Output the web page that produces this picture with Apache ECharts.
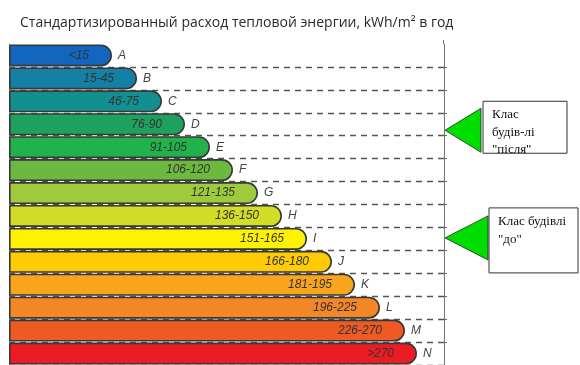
<!DOCTYPE html>
<html><head><meta charset="utf-8">
<script src="https://cdn.jsdelivr.net/npm/echarts@6/dist/echarts.min.js"></script>
<style>html,body{margin:0;padding:0;background:#fff}#c{width:580px;height:365px}</style>
</head><body><div id="c"></div>
<script>
const titleText = 'Стандартизированный расход тепловой энергии, kWh/m² в год';
const classes = ['A','B','C','D','E','F','G','H','I','J','K','L','M','N'];
const ranges = ['<15','15-45','46-75','76-90','91-105','106-120','121-135','136-150','151-165','166-180','181-195','196-225','226-270','>270'];
const barLengths = [103,128,153,176,201,224,249,273,298,323,346,371,396,408];
const barColors = ['#1266bf','#1580a6','#129090','#1fa15e','#22b24c','#6cb93f','#9dcb3c','#d3dc26','#fff200','#fecb05','#f8a51d','#f38626','#ed5a24','#ec1c24'];
const afterClass = 'D';
const beforeClass = 'I';
const afterLabel = 'Клас\nбудів-лі\n"після"';
const beforeLabel = 'Клас будівлі\n"до"';

const chart = echarts.init(document.getElementById('c'), null, {renderer:'canvas'});
chart.setOption({
  animation:false,
  title:{text:titleText,left:15,top:11,textStyle:{fontFamily:'Open Sans',fontSize:14,fontWeight:'normal',color:'#2a2a2a'}},
  grid:{left:9,right:136,top:44,height:325},
  xAxis:{type:'value',min:0,max:435,show:false},
  yAxis:[{type:'category',data:classes,inverse:true,
    axisLine:{show:true,lineStyle:{color:'#8a8a8a',width:1}},
    axisTick:{show:false},axisLabel:{show:false},
    splitLine:{show:true,interval:(i)=>i!==0,lineStyle:{color:'#555',width:1.3,type:[6,5]}}
  },{type:'category',data:classes,inverse:true,position:'right',
    axisLine:{show:true,lineStyle:{color:'#777',width:1}},
    axisTick:{show:true,inside:false,length:3,interval:(i)=>i!==0,lineStyle:{color:'#666'}},
    axisLabel:{show:false},splitLine:{show:false}
  }],
  series:[{
    type:'bar',barWidth:22,
    data:barLengths.map((v,i)=>({value:v,itemStyle:{color:barColors[i]}})),
    itemStyle:{borderColor:'#383838',borderWidth:1.6,borderRadius:[0,11,11,0]},
    label:{show:true,position:'insideRight',distance:23,formatter:(p)=>ranges[p.dataIndex],
      fontFamily:'Liberation Sans',fontStyle:'italic',fontSize:12,color:'#333'}
  },{
    type:'bar',barWidth:22,barGap:'-100%',silent:true,
    data:barLengths,
    itemStyle:{color:'rgba(0,0,0,0)'},
    label:{show:true,position:'right',distance:6,formatter:(p)=>classes[p.dataIndex],
      fontFamily:'Liberation Sans',fontStyle:'italic',fontSize:12,color:'#444'}
  }]
});

function annotation(cls, dy, baseX, halfH, box, text, tx){
  const y = chart.convertToPixel({yAxisIndex:0}, cls) + dy;
  return [
    {type:'polygon',shape:{points:[[445,y],[baseX,y-halfH],[baseX,y+halfH]]},
      style:{fill:'#00dd00',stroke:'#222',lineWidth:0.8},z:10},
    {type:'rect',shape:{x:box[0],y:y+box[1],width:box[2],height:box[3]},
      style:{fill:'#fff',stroke:'#333',lineWidth:1},z:10},
    {type:'text',x:tx,y:y+box[1]+5,style:{text:text,fontFamily:'Liberation Serif',fontSize:13,
      lineHeight:17.5,fill:'#111',textVerticalAlign:'top'},z:11}
  ];
}
chart.setOption({graphic:[
  {type:'line',shape:{x1:443.5,y1:40,x2:443.5,y2:44},style:{stroke:'#777',lineWidth:1}},
  ...annotation(afterClass, 6, 481, 22, [483,-29,84,52], afterLabel, 492),
  ...annotation(beforeClass, -1, 488, 22, [489,-30,89,65], beforeLabel, 498)
]});
</script></body></html>
